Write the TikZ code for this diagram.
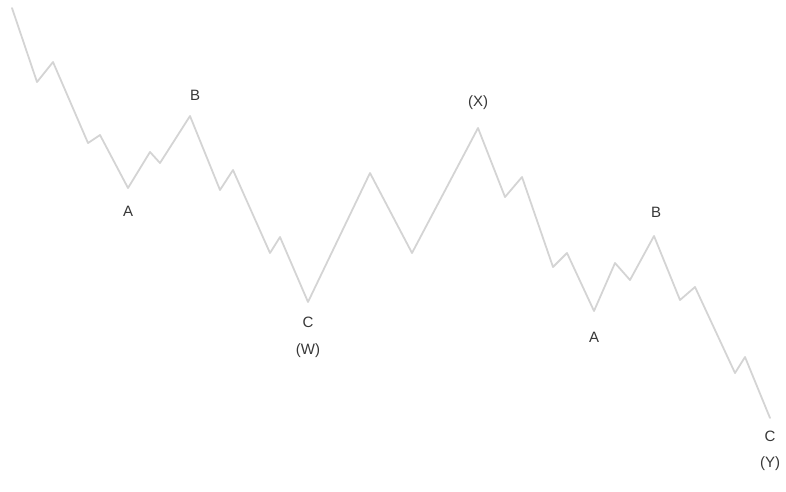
\documentclass[tikz,border=0pt]{standalone}
\usepackage{fontspec}
\setmainfont{Liberation Sans}
\usepackage{tikz}
\usetikzlibrary{positioning}
\definecolor{wavegray}{RGB}{212,212,212}
\definecolor{labelgray}{RGB}{55,55,55}

\begin{document}
\begin{tikzpicture}[x=1pt, y=-1pt,
    wave/.style={draw=wavegray, line width=1.8pt, line join=round, line cap=round},
    lbl/.style={text=labelgray, font=\fontsize{15}{17}\selectfont, inner sep=1pt}]
    \useasboundingbox (0,0) rectangle (786,491);
    % turning points of the correction
    \coordinate (pA1) at (128,188);
    \coordinate (pB1) at (190,116);
    \coordinate (pW)  at (308,302);
    \coordinate (pX)  at (478,128);
    \coordinate (pA2) at (594,311);
    \coordinate (pB2) at (654,236);
    \coordinate (pY)  at (770,418);
    \draw[wave] (12,8) -- (37,82) -- (53,62) -- (88,143) -- (100,135) -- (pA1)
        -- (150,152) -- (160,163) -- (pB1)
        -- (220,190) -- (233,170) -- (270,253) -- (280,237) -- (pW)
        -- (370,173) -- (412,253) -- (pX)
        -- (505,197) -- (522,177) -- (553,267) -- (567,253) -- (pA2)
        -- (615,263) -- (630,280) -- (pB2)
        -- (680,300) -- (695,287) -- (735,373) -- (745,357) -- (pY);
    \node[lbl, below=17pt of pA1] (labA1) {A};
    \node[lbl, above=14pt of pB1, xshift=5pt] (labB1) {B};
    \node[lbl, below=14pt of pW] (labCW) {C};
    \node[lbl, below=13pt of labCW] (labW) {(W)};
    \node[lbl, above=17pt of pX] (labX) {(X)};
    \node[lbl, below=20pt of pA2] (labA2) {A};
    \node[lbl, above=17pt of pB2, xshift=2pt] (labB2) {B};
    \node[lbl, below=12pt of pY] (labCY) {C};
    \node[lbl, below=12pt of labCY] (labY) {(Y)};
\end{tikzpicture}
\end{document}
